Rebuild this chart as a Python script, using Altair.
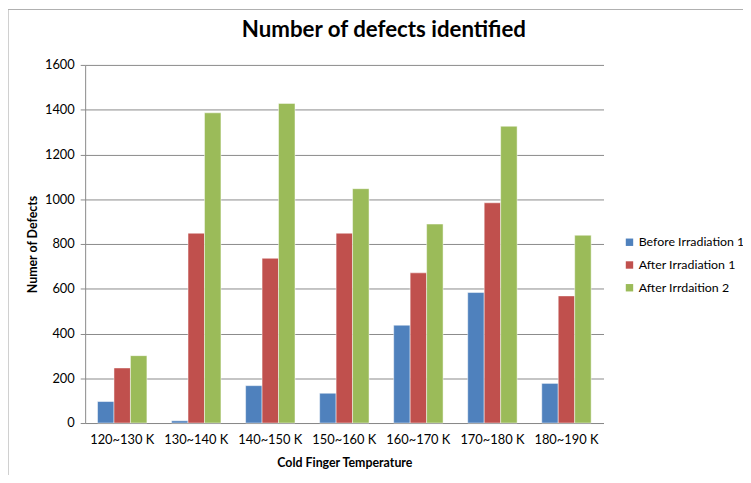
import altair as alt
import pandas as pd

categories = ["120~130 K", "130~140 K", "140~150 K", "150~160 K", "160~170 K", "170~180 K", "180~190 K"]
series = ["Before Irradiation 1", "After Irradiation 1", "After Irrdaition 2"]
before_irr_1 = [96, 10, 167, 133, 437, 583, 177]
after_irr_1 = [246, 848, 736, 848, 671, 984, 568]
after_irr_2 = [301, 1386, 1428, 1047, 889, 1326, 839]
colors = ["#4F81BD", "#C0504D", "#9BBB59"]

rows = []
for s, vals in zip(series, [before_irr_1, after_irr_1, after_irr_2]):
    for c, v in zip(categories, vals):
        rows.append({"Temperature": c, "Series": s, "Defects": v})
df = pd.DataFrame(rows)

FONT = "Lato"

bars = alt.Chart(df).mark_bar(stroke="white", strokeWidth=0.6, strokeOpacity=0.8).encode(
    x=alt.X("Temperature:N", sort=categories,
            scale=alt.Scale(paddingInner=0.333, paddingOuter=0.167),
            axis=alt.Axis(title="Cold Finger Temperature", labelAngle=0, ticks=False,
                          domain=True, domainColor="#8a8a8a", labelFontSize=13,
                          labelPadding=11, titleFontSize=12.5, titleFontWeight="bold",
                          titlePadding=10, labelColor="#000", titleColor="#000",
                          labelFont=FONT, titleFont=FONT)),
    xOffset=alt.XOffset("Series:N", sort=series, scale=alt.Scale(paddingInner=0, paddingOuter=0)),
    y=alt.Y("Defects:Q", scale=alt.Scale(domain=[0, 1600], nice=False),
            axis=alt.Axis(title="Numer of Defects", values=list(range(0, 1601, 200)), format="d",
                          grid=True, gridColor="#8a8a8a", gridWidth=1,
                          domain=True, domainColor="#8a8a8a", tickColor="#8a8a8a",
                          tickSize=5, labelFontSize=13, labelPadding=6,
                          titleFontSize=12.5, titleFontWeight="bold", titlePadding=5,
                          labelColor="#000", titleColor="#000",
                          labelFont=FONT, titleFont=FONT)),
    color=alt.Color("Series:N", sort=series, scale=alt.Scale(domain=series, range=colors),
                    legend=alt.Legend(title=None, orient="none", legendX=544, legendY=173,
                                      symbolType="square", symbolSize=56, symbolStrokeWidth=0,
                                      labelFontSize=12.5, labelFont=FONT, labelColor="#000",
                                      rowPadding=10, labelOffset=3, labelLimit=200)),
)

frame = alt.Chart(pd.DataFrame({"a": [0]})).mark_rect(
    fill=None, stroke="#b0b0b0", strokeWidth=1.2, clip=False
).encode(x=alt.value(-78), x2=alt.value(900), y=alt.value(-56), y2=alt.value(600))

chart = alt.layer(frame, bars).properties(
    width=524, height=362,
    title=alt.TitleParams("Number of defects identified", fontSize=22.5, fontWeight="bold",
                          font=FONT, color="#000", dx=40, offset=-33, anchor="middle",
                          frame="group"),
    autosize=alt.AutoSizeParams(type="none"),
    padding={"left": 78, "top": 55, "right": 141, "bottom": 50},
).configure_view(stroke=None)

chart.save("out.html", embed_options={"renderer": "svg", "actions": False})
